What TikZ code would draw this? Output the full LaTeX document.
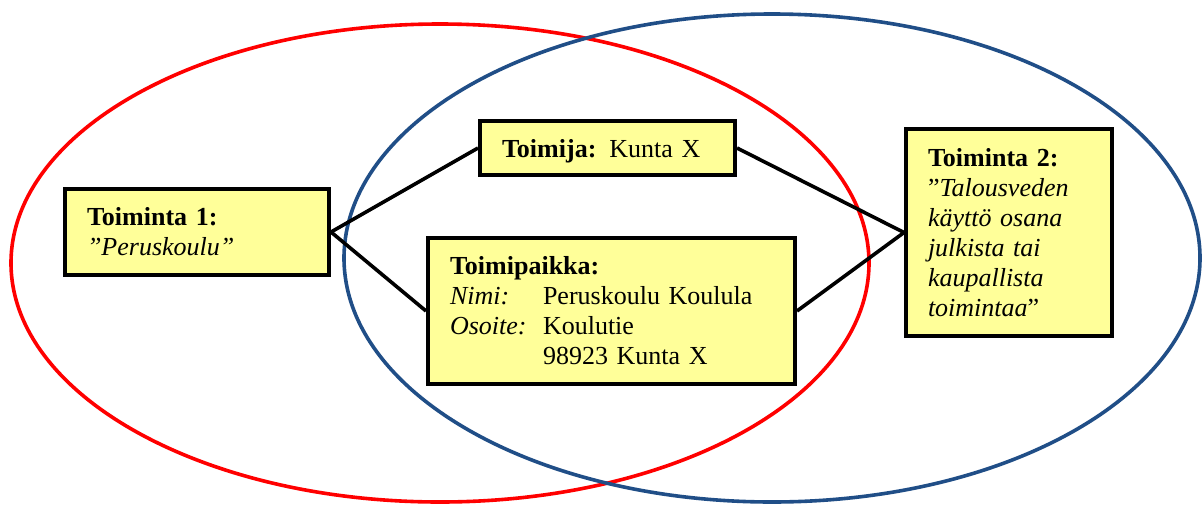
\documentclass[tikz,border=0pt]{standalone}
\usepackage{fontspec}
\setmainfont{Liberation Serif}
\definecolor{ellred}{RGB}{255,0,0}
\definecolor{ellblue}{RGB}{32,78,135}
\definecolor{boxfill}{RGB}{255,255,153}
\begin{document}
\begin{tikzpicture}[x=1pt,y=-1pt,
  infobox/.style={draw=black, line width=4pt, fill=boxfill, rectangle,
    anchor=north west, inner xsep=22pt, inner ysep=0pt, align=left,
    font=\fontsize{26}{30}\selectfont},
  conn/.style={draw=black, line width=3.6pt},
  ring/.style={line width=3.6pt}]
\useasboundingbox (0,0) rectangle (1202,504);
\draw[ring, ellred] (440,263) ellipse [x radius=429pt, y radius=239pt];
\draw[ring, ellblue] (772,258) ellipse [x radius=428pt, y radius=244pt];

\node[infobox, text width=220pt, minimum height=86pt] (t1) at (63,187)
  {\textbf{Toiminta 1:}\\\textit{”Peruskoulu”}};
\node[infobox, text width=211pt, minimum height=54pt, text depth=0pt] (tj) at (478,119)
  {\textbf{Toimija:} Kunta X};
\node[infobox, text width=323pt, minimum height=146pt] (tp) at (426,236)
  {\textbf{Toimipaikka:}\\
   \makebox[93pt][l]{\textit{Nimi:}}Peruskoulu Koulula\\
   \makebox[93pt][l]{\textit{Osoite:}}Koulutie\\
   \hspace*{93pt}98923 Kunta X};
\node[infobox, text width=162pt, minimum height=207pt] (t2) at (904,127)
  {\textbf{Toiminta 2:}\\”\textit{Talousveden}\\\textit{käyttö osana}\\\textit{julkista tai}\\\textit{kaupallista}\\\textit{toimintaa}”};

\draw[conn] (t1.east) -- (tj.west);
\draw[conn] (t1.east) -- (tp.west);
\draw[conn] (tj.east) -- (t2.west);
\draw[conn] (tp.east) -- (t2.west);
\end{tikzpicture}
\end{document}
